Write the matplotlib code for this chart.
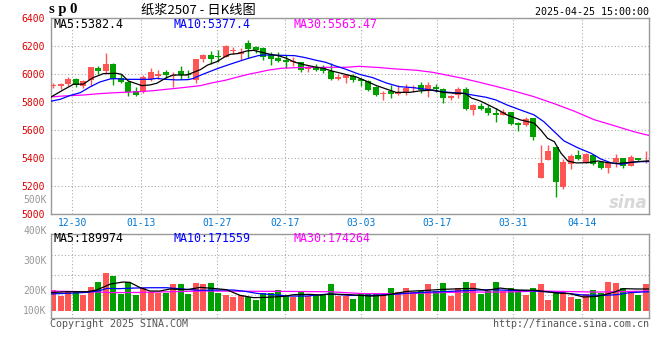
import matplotlib
matplotlib.use("Agg")
from matplotlib import pyplot as plt

# ---- daily k-line data, 80 trading days (12-25 .. 04-25) ----
opens = [5915, 5919, 5931, 5969, 5917, 5960, 6045, 6024, 6074, 5971,
         5945, 5881, 5876, 5964, 5990, 6017, 5988, 6024, 6000, 5962,
         6110, 6138, 6129, 6124, 6169, 6143, 6224, 6195, 6186, 6138,
         6117, 6105, 6088, 6086, 6038, 6052, 6043, 6021, 5969, 5976,
         5990, 5969, 5952, 5910, 5857, 5881, 5862, 5871, 5900, 5924,
         5888, 5912, 5895, 5833, 5850, 5895, 5748, 5774, 5760, 5726,
         5710, 5729, 5652, 5638, 5686, 5262, 5388, 5481, 5193, 5357,
         5424, 5371, 5424, 5374, 5329, 5374, 5400, 5348, 5400, 5376]
highs = [5938, 5940, 5981, 5976, 5957, 6052, 6060, 6152, 6081, 6000,
         5950, 5907, 5995, 6045, 6029, 6031, 6017, 6060, 6033, 6110,
         6145, 6167, 6171, 6207, 6195, 6186, 6243, 6205, 6195, 6157,
         6157, 6138, 6126, 6090, 6067, 6071, 6067, 6079, 6000, 6000,
         6000, 5976, 5957, 5914, 5881, 5924, 5924, 5929, 5924, 5948,
         5948, 5929, 5900, 5852, 5910, 5912, 5786, 5798, 5781, 5762,
         5752, 5733, 5662, 5695, 5690, 5495, 5495, 5481, 5395, 5431,
         5460, 5438, 5431, 5381, 5376, 5431, 5405, 5421, 5405, 5452]
lows = [5900, 5895, 5919, 5912, 5905, 5919, 6000, 6000, 5926, 5938,
        5845, 5845, 5867, 5952, 5967, 5971, 5907, 5969, 5971, 5940,
        6091, 6076, 6091, 6124, 6143, 6102, 6114, 6150, 6102, 6067,
        6086, 6043, 6060, 6019, 6014, 6024, 6012, 5962, 5962, 5940,
        5948, 5917, 5881, 5845, 5817, 5831, 5852, 5852, 5871, 5864,
        5838, 5876, 5798, 5814, 5833, 5745, 5710, 5745, 5710, 5662,
        5710, 5638, 5595, 5629, 5531, 5262, 5388, 5126, 5181, 5324,
        5388, 5364, 5350, 5324, 5293, 5340, 5333, 5345, 5381, 5364]
closes = [5924, 5931, 5969, 5924, 5952, 6052, 6026, 6074, 5969, 5945,
          5874, 5855, 5981, 6017, 6002, 5993, 5998, 5993, 5993, 6110,
          6138, 6110, 6124, 6202, 6174, 6157, 6181, 6174, 6126, 6110,
          6095, 6090, 6095, 6033, 6045, 6033, 6026, 5969, 5981, 5995,
          5960, 5950, 5888, 5852, 5867, 5860, 5871, 5902, 5910, 5888,
          5924, 5893, 5833, 5848, 5895, 5755, 5781, 5752, 5726, 5710,
          5729, 5645, 5638, 5679, 5555, 5367, 5452, 5233, 5371, 5417,
          5395, 5431, 5357, 5329, 5367, 5400, 5348, 5410, 5386, 5383]
# volume, thousands of lots
volumes = [181, 128, 172, 172, 137, 210, 254, 332, 306, 149,
           254, 137, 201, 166, 158, 158, 236, 236, 149, 245,
           236, 245, 158, 137, 122, 137, 122, 96, 152, 158,
           181, 128, 122, 169, 128, 134, 134, 236, 128, 128,
           102, 146, 146, 146, 146, 198, 163, 198, 163, 169,
           236, 169, 245, 128, 198, 254, 245, 146, 172, 254,
           169, 198, 175, 137, 198, 233, 93, 163, 166, 120,
           102, 149, 181, 158, 251, 245, 198, 163, 137, 236]

# moving averages (x = trading-day index)
ma5_x = [-0.4, 1.3, 2.7, 4, 5.3, 6.7, 8.4, 9.1, 10, 11, 11.8, 12.9, 13.8, 15.1, 16,
         17.8, 18.7, 19.6, 20.6, 21.8, 22.9, 23.6, 24.6, 25.8, 26.7, 27.8, 28.9, 30,
         31.1, 32.2, 33.6, 34.9, 36, 37.1, 38.4, 39.3, 40.4, 41.7, 43.1, 44.4, 45.7,
         47.5, 48.8, 50.6, 52, 53.8, 54.9, 55.8, 56.9, 58.2, 59.1, 60.5, 62.3, 64.1,
         65, 65.9, 66.8, 67.7, 68.6, 69.7, 71.3, 72.6, 73.9, 75.3, 76.6, 77.9, 79.45]
ma5 = [5835, 5888, 5929, 5930, 5976, 6005, 6007, 6000, 5952, 5934, 5919, 5924, 5936,
       5976, 5995, 5995, 6014, 6033, 6067, 6090, 6126, 6143, 6148, 6167, 6171, 6157,
       6143, 6133, 6114, 6086, 6067, 6052, 6043, 6024, 6007, 5995, 5981, 5952, 5919,
       5895, 5871, 5871, 5881, 5888, 5871, 5864, 5864, 5829, 5810, 5776, 5752, 5710,
       5674, 5652, 5602, 5543, 5519, 5436, 5381, 5367, 5369, 5381, 5369, 5364, 5369,
       5376, 5382]
ma10_x = [-0.4, 0.9, 2.2, 3.6, 4.9, 6.2, 7.6, 8.2, 9.8, 12.9, 13.8, 14.9, 16.4, 18,
          18.7, 19.6, 20.6, 22, 23.3, 24.6, 26, 27.3, 28, 28.9, 32.2, 33.6, 34.9, 36.3,
          37.6, 38.9, 40.8, 42.6, 44.4, 46.1, 47.9, 49.7, 51, 52.8, 54.6, 55.9, 57.7,
          59, 60.5, 62.3, 64.1, 65.4, 66.8, 68.1, 69.9, 71.7, 73, 74.4, 75.7, 77, 78.3,
          79.45]
ma10 = [5807, 5821, 5848, 5869, 5910, 5945, 5967, 5969, 5964, 5964, 5971, 5964, 5960,
        5962, 5971, 5993, 6014, 6043, 6067, 6090, 6114, 6133, 6138, 6138, 6133, 6119,
        6102, 6086, 6060, 6038, 6000, 5976, 5938, 5912, 5905, 5893, 5881, 5871, 5864,
        5852, 5836, 5817, 5781, 5745, 5710, 5662, 5590, 5524, 5476, 5436, 5395, 5367,
        5357, 5371, 5376, 5377]
ma30_x = [-0.4, 1.3, 4, 6.2, 8.4, 11.5, 13.3, 15.1, 17.3, 19.6, 21.1, 22.9, 24.6, 26,
          27.3, 28.6, 30.4, 32.6, 37.1, 39, 40.8, 43.5, 45.7, 48.4, 50.6, 52.4, 54.6,
          56.8, 59, 61.4, 64.1, 66.8, 69.4, 72.1, 74.8, 77.4, 79.45]
ma30 = [5838, 5845, 5852, 5862, 5869, 5876, 5883, 5893, 5905, 5919, 5938, 5957, 5981,
        6000, 6014, 6029, 6043, 6048, 6050, 6050, 6057, 6048, 6038, 6029, 6014, 5995,
        5971, 5943, 5914, 5881, 5840, 5790, 5738, 5676, 5633, 5590, 5563]

vma5_x = [-0.44, 1.8, 4.5, 5.8, 7.6, 9.3, 10.2, 11.6, 12.9, 14.2, 15.6, 17.8, 19.6, 21.3,
          23.1, 24.9, 26.7, 28.4, 30.7, 32, 34.2, 35.6, 36.9, 39.6, 42.3, 44.1, 47.2,
          49.8, 52, 54.7, 56, 57.8, 59.6, 61.8, 64.4, 67.1, 68.9, 70.7, 72.5, 74.7, 76,
          77.8, 79.45]
vma5 = [158, 166, 166, 181, 233, 251, 248, 201, 172, 172, 190, 184, 204, 195, 184, 134,
        114, 117, 125, 140, 143, 137, 146, 140, 128, 134, 169, 178, 187, 193, 195, 178,
        198, 181, 178, 155, 149, 120, 125, 160, 193, 190, 190]
vma10_x = [-0.44, 1.8, 4.5, 6.2, 7.1, 8.9, 10.7, 12.9, 15.1, 17.8, 19.6, 22.2, 24, 25.6,
           27.1, 29.3, 31.6, 33.8, 35.6, 36.9, 39.6, 42.7, 45.8, 48.5, 50.2, 52.9, 55.6,
           58.2, 60.9, 63.6, 66.2, 68, 70.7, 73.3, 75.1, 76.9, 79.45]
vma10 = [146, 152, 160, 175, 195, 193, 198, 201, 201, 187, 178, 181, 181, 169, 152, 140,
         128, 128, 140, 146, 134, 134, 146, 158, 163, 169, 178, 184, 178, 175, 163, 155,
         137, 134, 140, 158, 166]
vma30_x = [-0.44, 6.2, 7.6, 11.6, 19.6, 30.7, 36.9, 41.4, 45.8, 51.6, 54.7, 60, 65.3,
           72.4, 79.45]
vma30 = [172, 163, 158, 160, 172, 169, 166, 149, 149, 158, 163, 163, 172, 163, 172]

date_idx = [3, 12, 22, 31, 41, 51, 61, 70]
date_lbl = ['12-30', '01-13', '01-27', '02-17', '03-03', '03-17', '03-31', '04-14']
price_ticks = [5000, 5200, 5400, 5600, 5800, 6000, 6200, 6400]
vol_lbl = ['100K', '200K', '300K', '400K', '500K']
vol_lbl_pos = [0, 175, 437, 700, 968]   # where sina prints them (K)
vol_grid = [137, 312, 487]

RED, GREEN = '#ff5555', '#00a000'
GRID = '#aaaaaa'
MONO = 'DejaVu Sans Mono'

W, H = 660, 360
fig = plt.figure(figsize=(6.6, 3.6), dpi=100)


def px_axes(l, t, r, b):
    return fig.add_axes([l / W, 1 - b / H, (r - l) / W, (b - t) / H])


def ftext(x, y, s, **kw):
    kw.setdefault('va', 'center')
    fig.text(x / W, 1 - y / H, s, **kw)


ax = px_axes(50.7, 18.3, 649.3, 214.3)
axv = px_axes(50.7, 234.3, 649.3, 318.3)

# sina's grid uses a slightly wider step than the candles
grid_x = [(i + 0.5) * 76 / 75 - 1 for i in date_idx]
xs = list(range(len(closes)))
cols = [RED if c >= o else GREEN for o, c in zip(opens, closes)]

for a in (ax, axv):
    a.set_xlim(-0.35, 79.47)
    a.set_xticks(grid_x)
    a.grid(True, axis='x', color=GRID, lw=0.8, ls=(0, (1, 2)))
    a.tick_params(length=0)
    for sp in a.spines.values():
        sp.set_color('#999999')
        sp.set_linewidth(1)
    a.set_axisbelow(True)

# ---- price panel ----
ax.set_ylim(5000, 6400)
ax.set_yticks(price_ticks)
ax.set_yticklabels([str(p) for p in price_ticks], color='#e00000',
                   fontfamily=MONO, fontsize=7)
ax.grid(True, axis='y', color=GRID, lw=0.8, ls=(0, (1, 2)))
ax.set_xticklabels(date_lbl, color='#0078d7', fontfamily=MONO, fontsize=7)
ax.tick_params(axis='x', pad=2.5)
ax.tick_params(axis='y', pad=4)

ax.vlines(xs, lows, highs, colors=cols, lw=1, zorder=2)
bottoms = [min(o, c) for o, c in zip(opens, closes)]
heights = [max(abs(c - o), 5) for o, c in zip(opens, closes)]
ax.bar(xs, heights, bottom=bottoms, width=0.8, color=cols, lw=0, zorder=3)

ax.plot(ma30_x, ma30, color='#ff00ff', lw=0.9, zorder=4)
ax.plot(ma10_x, ma10, color='#0000ff', lw=0.9, zorder=4)
ax.plot(ma5_x, ma5, color='black', lw=0.9, zorder=5)

ax.text(0.965, 0.06, 'sina', transform=ax.transAxes, ha='center', va='center',
        fontsize=12, fontweight='bold', style='italic', color='#d8d8d8', zorder=1)

# ---- volume panel ----
axv.set_ylim(-66.5, 668.5)
axv.set_yticks([])
axv.set_xticklabels([])
for g in vol_grid:
    axv.axhline(g, color=GRID, lw=0.8, ls=(0, (1, 2)), zorder=0)
axv.bar(xs, volumes, width=0.82, color=cols, lw=0, zorder=2)
axv.plot(vma30_x, vma30, color='#ff00ff', lw=0.9, zorder=3)
axv.plot(vma10_x, vma10, color='#0000ff', lw=0.9, zorder=3)
axv.plot(vma5_x, vma5, color='black', lw=0.9, zorder=4)
ytr = axv.get_yaxis_transform()
for s, v in zip(vol_lbl, vol_lbl_pos):
    axv.text(-0.0067, v, s, transform=ytr, ha='right', va='center', color='#999999',
             fontfamily=MONO, fontsize=7, clip_on=False)

# ---- header, legends, footer ----
ftext(49, 9, 's p 0', fontfamily='Liberation Serif', fontweight='bold', fontsize=10.5)
ftext(141, 10, '纸浆2507 - 日K线图', fontfamily=['Noto Sans CJK SC', 'DejaVu Sans'],
      fontsize=9.5)
ftext(649, 12, '2025-04-25 15:00:00', ha='right', fontfamily=MONO, fontsize=7.2)

ftext(54, 24, 'MA5:5382.4', color='black', fontfamily=MONO, fontsize=8.4)
ftext(174, 24, 'MA10:5377.4', color='#0000ff', fontfamily=MONO, fontsize=8.4)
ftext(294, 24, 'MA30:5563.47', color='#ff00ff', fontfamily=MONO, fontsize=8.4)
ftext(54, 239, 'MA5:189974', color='black', fontfamily=MONO, fontsize=8.4)
ftext(174, 239, 'MA10:171559', color='#0000ff', fontfamily=MONO, fontsize=8.4)
ftext(294, 239, 'MA30:174264', color='#ff00ff', fontfamily=MONO, fontsize=8.4)

ftext(50, 324, 'Copyright 2025 SINA.COM', color='#555555', fontfamily=MONO, fontsize=7.2)
ftext(649, 324, 'http://finance.sina.com.cn', ha='right', color='#555555',
      fontfamily=MONO, fontsize=7.2)

fig.savefig('out.png', dpi=100)
